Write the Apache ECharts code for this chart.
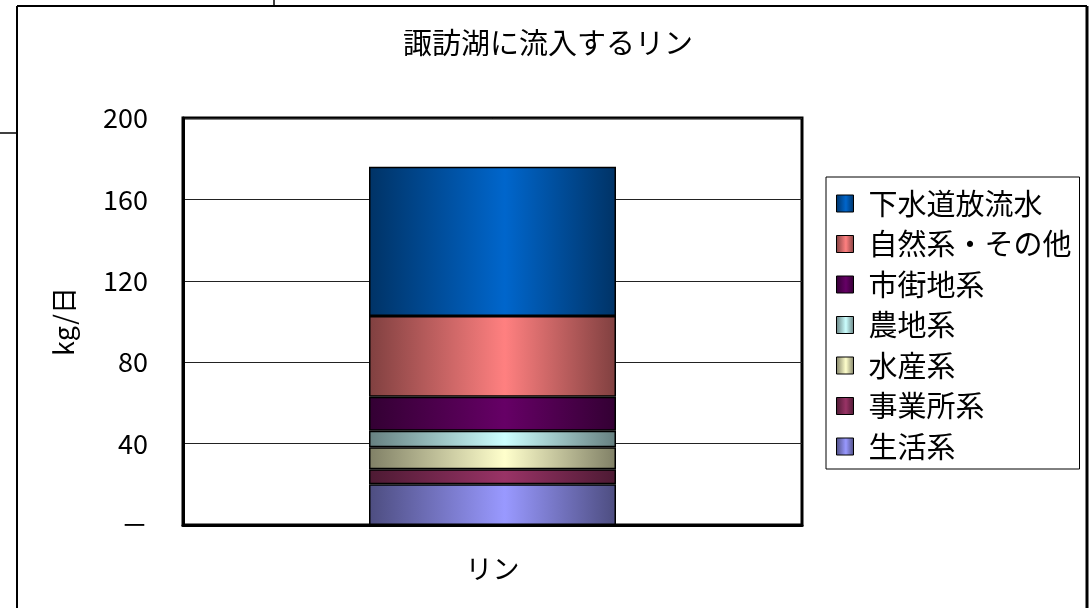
<!DOCTYPE html>
<html>
<head>
<meta charset="utf-8">
<script src="https://cdn.jsdelivr.net/npm/echarts@6/dist/echarts.min.js"></script>
<style>html,body{margin:0;padding:0;background:#fff;}#c{width:1091px;height:608px;}</style>
</head>
<body>
<div id="c"></div>
<script>
const titleText = '諏訪湖に流入するリン';
const categories = ['リン'];
const seriesNames = ['生活系', '事業所系', '水産系', '農地系', '市街地系', '自然系・その他', '下水道放流水'];
const v生活系 = [20.0];
const v事業所系 = [7.4];
const v水産系 = [10.8];
const v農地系 = [8.1];
const v市街地系 = [16.7];
const v自然系 = [39.7];
const v下水道 = [73.3];
const seriesValues = [v生活系, v事業所系, v水産系, v農地系, v市街地系, v自然系, v下水道];
const yAxisName = 'kg/日';
const yTicks = [0, 40, 80, 120, 160, 200];
const centerColors = ['#9999FF', '#993366', '#FFFFCC', '#CCFFFF', '#660066', '#FF8080', '#0066CC'];
const edgeColors   = ['#4D4D80', '#4D1A33', '#808066', '#668080', '#330033', '#804040', '#003366'];

const FONT = '"Noto Sans CJK JP", sans-serif';

function grad(i) {
  return new echarts.graphic.LinearGradient(0, 0, 1, 0, [
    {offset: 0, color: edgeColors[i]},
    {offset: 0.55, color: centerColors[i]},
    {offset: 1, color: edgeColors[i]}
  ]);
}

const chart = echarts.init(document.getElementById('c'));
const series = seriesNames.map((n, i) => ({
  name: n,
  type: 'bar',
  stack: 'total',
  barWidth: 247,
  data: seriesValues[i],
  itemStyle: {color: grad(i), borderColor: '#000', borderWidth: 1.5},
  emphasis: {disabled: true}
}));

chart.setOption({
  animation: false,
  backgroundColor: '#fff',
  title: {
    text: titleText,
    left: 398,
    top: 23,
    textStyle: {fontFamily: FONT, fontSize: 29, fontWeight: 'normal', color: '#000'}
  },
  grid: {
    left: 183, top: 118, right: 289, bottom: 83,
    show: true, borderColor: '#000', borderWidth: 3, containLabel: false
  },
  legend: {
    orient: 'vertical',
    left: 826, top: 177,
    padding: [12, 8, 8, 10],
    itemGap: 11.5,
    itemWidth: 17, itemHeight: 17,
    icon: 'rect',
    borderColor: '#000', borderWidth: 1,
    backgroundColor: '#fff',
    data: seriesNames.slice().reverse(),
    itemStyle: {borderColor: '#000', borderWidth: 1},
    textStyle: {fontFamily: FONT, fontSize: 29, lineHeight: 29, color: '#000', padding: [0, 0, 0, 10]}
  },
  xAxis: {
    type: 'category',
    data: categories,
    axisTick: {show: false},
    axisLine: {lineStyle: {color: '#000', width: 3}},
    axisLabel: {fontFamily: FONT, fontSize: 27, color: '#000', margin: 30}
  },
  yAxis: {
    type: 'value',
    min: yTicks[0], max: yTicks[yTicks.length - 1], interval: 40,
    name: yAxisName,
    nameLocation: 'middle',
    nameGap: 106,
    nameRotate: 90,
    nameTextStyle: {fontFamily: FONT, fontSize: 27, color: '#000'},
    axisLine: {show: true, lineStyle: {color: '#000', width: 3}},
    axisTick: {show: false},
    splitLine: {lineStyle: {color: '#222', width: 1}},
    axisLabel: {
      fontFamily: FONT, fontSize: 27, color: '#000', margin: 35,
      formatter: v => v === 0 ? '－' : String(v)
    }
  },
  graphic: [
    {type: 'line', shape: {x1: 17, y1: 6, x2: 1087, y2: 6}, style: {stroke: '#000', lineWidth: 2}},
    {type: 'line', shape: {x1: 17, y1: 6, x2: 17, y2: 620}, style: {stroke: '#000', lineWidth: 2}},
    {type: 'line', shape: {x1: 1087, y1: 6, x2: 1087, y2: 620}, style: {stroke: '#000', lineWidth: 3}},
    {type: 'line', shape: {x1: 274, y1: 0, x2: 274, y2: 6}, style: {stroke: '#000', lineWidth: 1.5}},
    {type: 'line', shape: {x1: 0, y1: 133, x2: 17, y2: 133}, style: {stroke: '#000', lineWidth: 1.5}}
  ],
  series: series
});
</script>
</body>
</html>
